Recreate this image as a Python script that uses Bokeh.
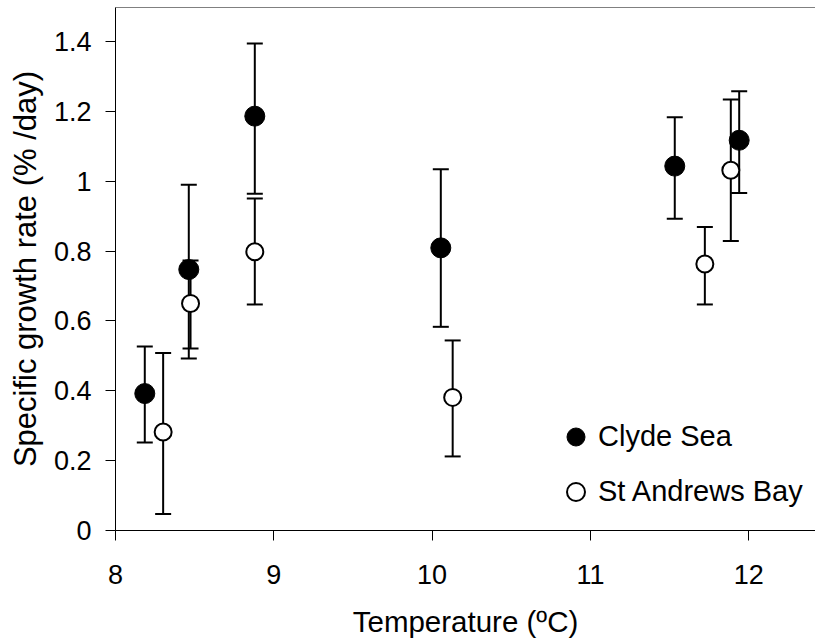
from bokeh.plotting import figure
from bokeh.models import (ColumnDataSource, Whisker, TeeHead, Legend, LegendItem,
                          LinearAxis, FixedTicker, CustomJSTickFormatter)
from bokeh.embed import file_html
from bokeh.resources import INLINE

# ---- data ----
temp_clyde = [8.185, 8.463, 8.88, 10.055, 11.533, 11.94]
rate_clyde = [0.392, 0.747, 1.186, 0.809, 1.043, 1.117]
upper_clyde = [0.527, 0.99, 1.394, 1.034, 1.183, 1.257]
lower_clyde = [0.252, 0.492, 0.964, 0.583, 0.892, 0.966]

temp_sa = [8.301, 8.474, 8.88, 10.13, 11.723, 11.887]
rate_sa = [0.282, 0.650, 0.798, 0.381, 0.763, 1.031]
upper_sa = [0.508, 0.773, 0.950, 0.544, 0.869, 1.234]
lower_sa = [0.047, 0.521, 0.647, 0.212, 0.647, 0.829]

x_ticks = [8, 9, 10, 11, 12]
y_ticks = [0, 0.2, 0.4, 0.6, 0.8, 1.0, 1.2, 1.4]
series_names = ["Clyde Sea", "St Andrews Bay"]
x_title = "Temperature (ºC)"
y_title = "Specific growth rate (% /day)"

FONT = "Liberation Sans"

src_c = ColumnDataSource(dict(x=temp_clyde, y=rate_clyde, up=upper_clyde, lo=lower_clyde))
src_s = ColumnDataSource(dict(x=temp_sa, y=rate_sa, up=upper_sa, lo=lower_sa))

p = figure(width=815, height=644, x_range=(8, 12.422), y_range=(0, 1.497),
           output_backend="svg", toolbar_location=None,
           min_border_left=115, min_border_right=0, min_border_top=7, min_border_bottom=114)
p.outline_line_color = None
p.grid.visible = False
p.background_fill_color = "white"
p.border_fill_color = "white"

# error bars
for src in (src_s, src_c):
    w = Whisker(source=src, base="x", upper="up", lower="lo", dimension="height",
                line_color="black", line_width=2,
                upper_head=TeeHead(size=16, line_color="black", line_width=2),
                lower_head=TeeHead(size=16, line_color="black", line_width=2))
    p.add_layout(w)

r_s = p.scatter("x", "y", source=src_s, size=17, fill_color="white",
                line_color="black", line_width=2)
r_c = p.scatter("x", "y", source=src_c, size=20, fill_color="black",
                line_color="black", line_width=1)

# axes styling
for ax, ticks in ((p.xaxis[0], x_ticks), (p.yaxis[0], y_ticks)):
    ax.ticker = FixedTicker(ticks=ticks)
    ax.axis_line_color = "black"
    ax.axis_line_width = 1
    ax.major_tick_line_color = "black"
    ax.major_tick_in = 0
    ax.major_tick_out = 10
    ax.minor_tick_line_color = None
    ax.major_label_text_font = FONT
    ax.major_label_text_font_size = "27px"
    ax.major_label_text_color = "black"
    ax.axis_label_text_font = FONT
    ax.axis_label_text_font_style = "normal"
    ax.axis_label_text_color = "black"

p.yaxis[0].formatter = CustomJSTickFormatter(
    code="return (Math.round(tick*10)/10).toString();")
p.xaxis[0].axis_label = x_title
p.yaxis[0].axis_label = y_title
p.xaxis[0].axis_label_text_font_size = "29.5px"
p.yaxis[0].axis_label_text_font_size = "31px"
p.xaxis[0].major_label_standoff = 24
p.xaxis[0].axis_label_standoff = 18
p.yaxis[0].major_label_standoff = 14
p.yaxis[0].axis_label_standoff = 8

# top frame line
top = LinearAxis(ticker=FixedTicker(ticks=[]), axis_line_color="#808080",
                 axis_line_width=1, major_tick_line_color=None,
                 minor_tick_line_color=None, major_label_text_font_size="0px")
p.add_layout(top, "above")

legend = Legend(items=[LegendItem(label=series_names[0], renderers=[r_c]),
                       LegendItem(label=series_names[1], renderers=[r_s])],
                location=(438, 16), orientation="vertical",
                glyph_width=45, glyph_height=45, label_standoff=0,
                spacing=10, padding=0, margin=0,
                border_line_color=None, background_fill_alpha=0,
                label_text_font=FONT, label_text_font_size="29px",
                label_text_color="black")
p.add_layout(legend, "center")

open("out.html", "w").write(file_html(p, INLINE))
